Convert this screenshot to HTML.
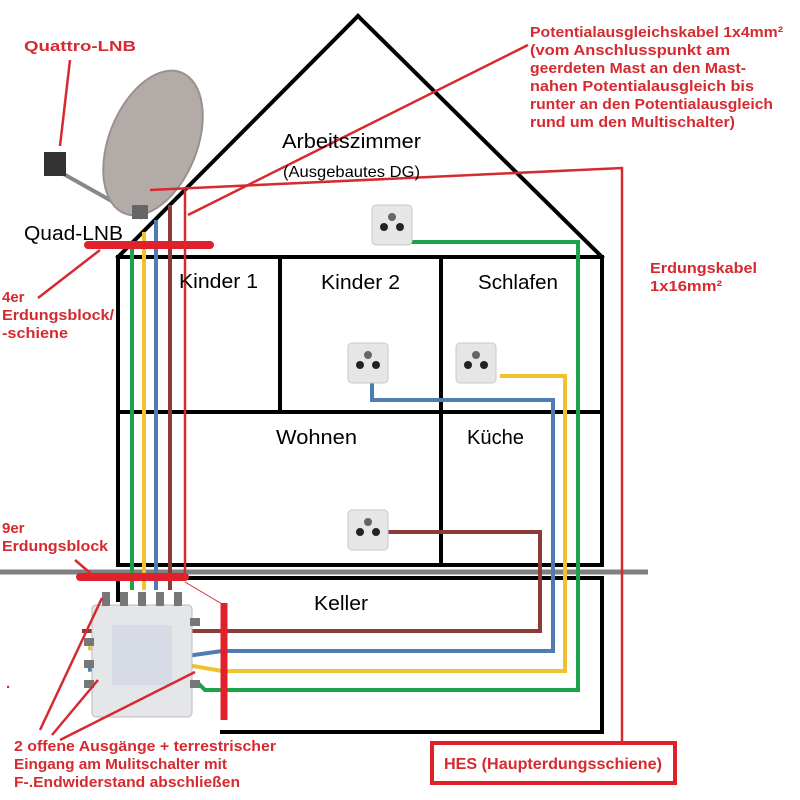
<!DOCTYPE html>
<html><head><meta charset="utf-8"><style>
body{margin:0;background:#fff}
svg{display:block}
text{font-family:"Liberation Sans",sans-serif}
</style></head><body>
<svg width="800" height="800" viewBox="0 0 800 800" xmlns="http://www.w3.org/2000/svg">
<rect width="800" height="800" fill="#fff"/>
<!-- dish -->
<g>
<line x1="60" y1="172" x2="142" y2="218" stroke="#888" stroke-width="4"/>
<ellipse cx="153" cy="143" rx="44" ry="76" transform="rotate(22 153 143)" fill="#b3aba8" stroke="#9a918d" stroke-width="2"/>
<rect x="44" y="152" width="22" height="24" fill="#333"/>
<rect x="132" y="205" width="16" height="14" fill="#666"/>
</g>
<!-- gray ground -->
<line x1="0" y1="572" x2="648" y2="572" stroke="#808080" stroke-width="5"/>
<!-- house -->
<g stroke="#000" stroke-width="4" fill="none" stroke-linecap="square">
<polyline points="118,565 118,257 602,257 602,565 118,565"/>
<line x1="118" y1="257" x2="358" y2="16"/>
<line x1="358" y1="16" x2="602" y2="257"/>
<line x1="280" y1="257" x2="280" y2="412"/>
<line x1="441" y1="257" x2="441" y2="565"/>
<line x1="118" y1="412" x2="602" y2="412"/>
<polyline points="118,600 118,578 602,578 602,732 222,732"/>
</g>
<!-- cables -->
<g fill="none" stroke-width="4">
<polyline points="132,248 132,590" stroke="#1aa34a"/>
<polyline points="144,232 144,590" stroke="#f2c12e"/>
<polyline points="156,220 156,590" stroke="#4f7db3"/>
<polyline points="170,205 170,590" stroke="#8b3c38"/>
<polyline points="410,242 578,242 578,690 205,690 198,683" stroke="#1aa34a"/>
<polyline points="500,376 565,376 565,671 222,671 88,648" stroke="#f2c12e"/>
<polyline points="372,382 372,400 553,400 553,651 222,651 88,670" stroke="#4f7db3"/>
<polyline points="386,532 540,532 540,631 82,631" stroke="#8b3c38"/>
</g>
<!-- sockets -->
<g>
<g transform="translate(372,205)"><rect width="40" height="40" rx="4" fill="#e6e6e6" stroke="#c8c8c8"/><circle cx="20" cy="12" r="4" fill="#666"/><circle cx="12" cy="22" r="4" fill="#222"/><circle cx="28" cy="22" r="4" fill="#222"/></g>
<g transform="translate(348,343)"><rect width="40" height="40" rx="4" fill="#e6e6e6" stroke="#c8c8c8"/><circle cx="20" cy="12" r="4" fill="#666"/><circle cx="12" cy="22" r="4" fill="#222"/><circle cx="28" cy="22" r="4" fill="#222"/></g>
<g transform="translate(456,343)"><rect width="40" height="40" rx="4" fill="#e6e6e6" stroke="#c8c8c8"/><circle cx="20" cy="12" r="4" fill="#666"/><circle cx="12" cy="22" r="4" fill="#222"/><circle cx="28" cy="22" r="4" fill="#222"/></g>
<g transform="translate(348,510)"><rect width="40" height="40" rx="4" fill="#e6e6e6" stroke="#c8c8c8"/><circle cx="20" cy="12" r="4" fill="#666"/><circle cx="12" cy="22" r="4" fill="#222"/><circle cx="28" cy="22" r="4" fill="#222"/></g>
</g>
<!-- multiswitch -->
<g>
<rect x="92" y="605" width="100" height="112" rx="4" fill="#e4e6ea" stroke="#bbb"/>
<rect x="112" y="625" width="60" height="60" fill="#d6dbe6"/>
<g fill="#777"><rect x="102" y="592" width="8" height="14"/><rect x="120" y="592" width="8" height="14"/><rect x="138" y="592" width="8" height="14"/><rect x="156" y="592" width="8" height="14"/><rect x="174" y="592" width="8" height="14"/>
<rect x="84" y="638" width="10" height="8"/><rect x="84" y="660" width="10" height="8"/><rect x="84" y="680" width="10" height="8"/><rect x="190" y="618" width="10" height="8"/><rect x="190" y="680" width="10" height="8"/></g>
</g>
<!-- red grounding -->
<g stroke="#e0202a" fill="none">
<line x1="88" y1="245" x2="210" y2="245" stroke-width="8" stroke-linecap="round"/>
<line x1="80" y1="577" x2="185" y2="577" stroke-width="8" stroke-linecap="round"/>
<line x1="224" y1="603" x2="224" y2="720" stroke-width="7"/>
</g>
<g stroke="#d42a30" fill="none" stroke-width="2.5">
<line x1="70" y1="60" x2="60" y2="146"/>
<line x1="100" y1="250" x2="38" y2="298"/>
<polyline points="150,190 622,168 622,742"/>
<line x1="185" y1="190" x2="185" y2="580"/>
<line x1="188" y1="215" x2="528" y2="45"/>
<line x1="75" y1="560" x2="95" y2="577"/>
<line x1="185" y1="582" x2="222" y2="604" stroke-width="1"/>
<line x1="40" y1="730" x2="102" y2="598"/>
<line x1="52" y1="735" x2="98" y2="680"/>
<line x1="60" y1="740" x2="195" y2="672"/>
</g>
<rect x="432" y="743" width="243" height="40" fill="none" stroke="#e0202a" stroke-width="4"/>
<!-- labels -->
<g fill="#d42a30" font-weight="bold" font-size="15" lengthAdjust="spacingAndGlyphs">
<text x="24" y="51" textLength="112" lengthAdjust="spacingAndGlyphs">Quattro-LNB</text>
<text x="530" y="37" textLength="253" lengthAdjust="spacingAndGlyphs">Potentialausgleichskabel 1x4mm²</text>
<text x="530" y="55" textLength="200" lengthAdjust="spacingAndGlyphs">(vom Anschlusspunkt am</text>
<text x="530" y="73" textLength="216" lengthAdjust="spacingAndGlyphs">geerdeten Mast an den Mast-</text>
<text x="530" y="91" textLength="224" lengthAdjust="spacingAndGlyphs">nahen Potentialausgleich bis</text>
<text x="530" y="109" textLength="243" lengthAdjust="spacingAndGlyphs">runter an den Potentialausgleich</text>
<text x="530" y="127" textLength="205" lengthAdjust="spacingAndGlyphs">rund um den Multischalter)</text>
<text x="650" y="273" textLength="107" lengthAdjust="spacingAndGlyphs">Erdungskabel</text>
<text x="650" y="291" textLength="72" lengthAdjust="spacingAndGlyphs">1x16mm²</text>
<text x="2" y="302">4er</text>
<text x="2" y="320" textLength="112" lengthAdjust="spacingAndGlyphs">Erdungsblock/</text>
<text x="2" y="338" textLength="66" lengthAdjust="spacingAndGlyphs">-schiene</text>
<text x="2" y="533">9er</text>
<text x="2" y="551" textLength="106" lengthAdjust="spacingAndGlyphs">Erdungsblock</text>
<text x="14" y="751" textLength="262" lengthAdjust="spacingAndGlyphs">2 offene Ausgänge + terrestrischer</text>
<text x="14" y="769" textLength="213" lengthAdjust="spacingAndGlyphs">Eingang am Mulitschalter mit</text>
<text x="14" y="787" textLength="226" lengthAdjust="spacingAndGlyphs">F-.Endwiderstand abschließen</text>
<text x="444" y="769" font-size="16" textLength="218" lengthAdjust="spacingAndGlyphs">HES (Haupterdungsschiene)</text>
<text x="6" y="688">.</text>
</g>
<g fill="#000" font-size="20">
<text x="24" y="240" textLength="99" lengthAdjust="spacingAndGlyphs">Quad-LNB</text>
<text x="282" y="148" textLength="139" lengthAdjust="spacingAndGlyphs">Arbeitszimmer</text>
<text x="283" y="177" font-size="16" textLength="137" lengthAdjust="spacingAndGlyphs">(Ausgebautes DG)</text>
<text x="179" y="288" textLength="79" lengthAdjust="spacingAndGlyphs">Kinder 1</text>
<text x="321" y="289" textLength="79" lengthAdjust="spacingAndGlyphs">Kinder 2</text>
<text x="478" y="289" textLength="80" lengthAdjust="spacingAndGlyphs">Schlafen</text>
<text x="276" y="444" textLength="81" lengthAdjust="spacingAndGlyphs">Wohnen</text>
<text x="467" y="444" textLength="57" lengthAdjust="spacingAndGlyphs">Küche</text>
<text x="314" y="610" textLength="54" lengthAdjust="spacingAndGlyphs">Keller</text>
</g>
</svg>
</body></html>
